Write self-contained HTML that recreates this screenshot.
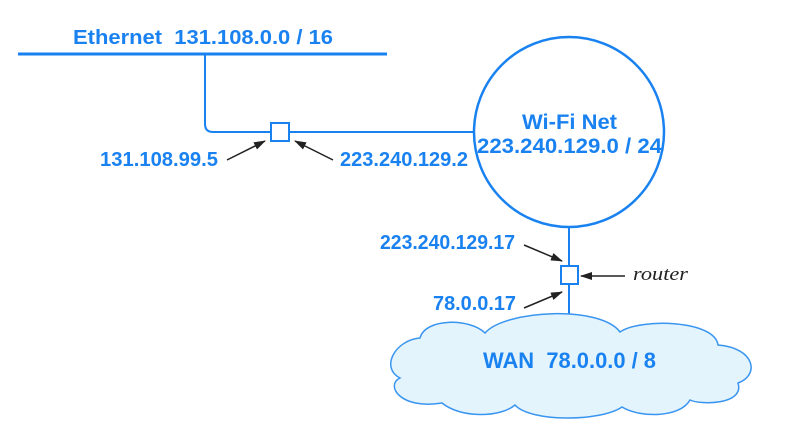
<!DOCTYPE html>
<html><head><meta charset="utf-8"><style>
html,body{margin:0;padding:0;background:#fff;}
svg{display:block;}
.b{font-family:"Liberation Sans",sans-serif;font-weight:bold;fill:#1a82f0;}
</style></head><body>
<svg width="790" height="442" viewBox="0 0 790 442">
<defs><marker id="ah" markerWidth="12" markerHeight="8" refX="11" refY="4" orient="auto" markerUnits="userSpaceOnUse"><path d="M0,0 L12,4 L0,8 z" fill="#222"/></marker></defs>
<g stroke="#1a82f0" fill="none" stroke-width="2">
<line x1="18" y1="54" x2="387" y2="54" stroke-width="3"/>
<path d="M205,54 V124 Q205,132 213,132 H474"/>
<circle cx="569" cy="132" r="95" stroke-width="2.5"/>
<line x1="569" y1="227" x2="569" y2="320"/>
</g>
<rect x="271" y="123" width="18" height="18" fill="#fff" stroke="#1a82f0" stroke-width="2"/>
<rect x="561" y="266" width="17" height="18" fill="#fff" stroke="#1a82f0" stroke-width="2"/>
<path d="M420,338 C425,318 470,318 485,333 C505,310 600,305 620,332 C640,318 715,320 718,345 C755,348 760,375 738,383 C745,405 700,405 690,400 C680,418 640,418 622,407 C600,422 530,422 515,405 C500,418 460,418 442,403 C400,410 385,385 400,378 C380,368 395,340 420,338 z" fill="#e3f4fd" stroke="#3a95f0" stroke-width="1.5"/>
<g stroke="#222" stroke-width="1.5" marker-end="url(#ah)">
<line x1="227" y1="160" x2="265" y2="141"/>
<line x1="333" y1="160" x2="295" y2="141"/>
<line x1="524" y1="245" x2="562" y2="261"/>
<line x1="524" y1="308" x2="562" y2="292"/>
<line x1="625" y1="276" x2="581" y2="276"/>
</g>
<text class="b" x="73" y="44" font-size="20" textLength="260" lengthAdjust="spacingAndGlyphs" xml:space="preserve">Ethernet  131.108.0.0 / 16</text>
<text class="b" x="100" y="166" font-size="20" textLength="118" lengthAdjust="spacingAndGlyphs">131.108.99.5</text>
<text class="b" x="340" y="166" font-size="20" textLength="128" lengthAdjust="spacingAndGlyphs">223.240.129.2</text>
<text class="b" x="522" y="129" font-size="21" textLength="95" lengthAdjust="spacingAndGlyphs">Wi-Fi Net</text>
<text class="b" x="477" y="153" font-size="21" textLength="185" lengthAdjust="spacingAndGlyphs">223.240.129.0 / 24</text>
<text class="b" x="380" y="249" font-size="20" textLength="135" lengthAdjust="spacingAndGlyphs">223.240.129.17</text>
<text class="b" x="433" y="310" font-size="20" textLength="83" lengthAdjust="spacingAndGlyphs">78.0.0.17</text>
<text class="b" x="483" y="368" font-size="22" textLength="173" lengthAdjust="spacingAndGlyphs" xml:space="preserve">WAN  78.0.0.0 / 8</text>
<text x="633" y="280" font-size="19" font-style="italic" font-family="Liberation Serif,serif" fill="#222" textLength="55" lengthAdjust="spacingAndGlyphs">router</text>
</svg>
</body></html>
